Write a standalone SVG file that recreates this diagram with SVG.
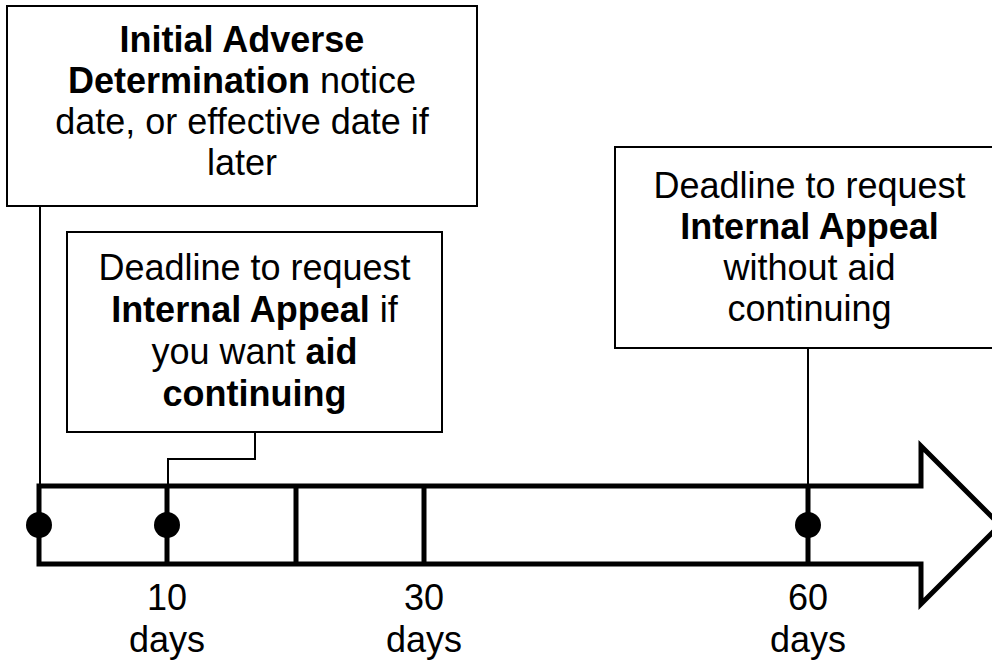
<svg xmlns="http://www.w3.org/2000/svg" width="992" height="663" viewBox="0 0 992 663">
<style>
.box{fill:#fff;stroke:#000;stroke-width:2}
.t{font-family:"Liberation Sans",Arial,sans-serif;font-size:36px;fill:#000;text-anchor:middle}
.b{font-weight:bold}
.conn{fill:none;stroke:#000;stroke-width:2}
.tl{fill:none;stroke:#000;stroke-width:5;stroke-linejoin:miter}
.dot{fill:#000}
</style>
<rect width="992" height="663" fill="#fff"/>
<g id="connectors">
<path class="conn" d="M40,206 V486"/>
<path class="conn" d="M255,432 V459 H168 V486"/>
<path class="conn" d="M808,348 V486"/>
</g>
<g id="timeline">
<path class="tl" d="M39,486 H921 V446 L1000,525 L921,604 V564 H39 Z"/>
<path class="tl" d="M167,486 V564 M296,486 V564 M424,486 V564 M808,486 V564"/>
<circle class="dot" cx="39" cy="525" r="13"/>
<circle class="dot" cx="167" cy="525" r="13"/>
<circle class="dot" cx="808" cy="525" r="13"/>
<text class="t" x="167" y="610">10</text>
<text class="t" x="167" y="652">days</text>
<text class="t" x="424" y="610">30</text>
<text class="t" x="424" y="652">days</text>
<text class="t" x="808" y="610">60</text>
<text class="t" x="808" y="652">days</text>
</g>
<g id="node-initial">
<rect class="box" x="7" y="6" width="470" height="200"/>
<text class="t" x="242" y="52"><tspan class="b">Initial Adverse</tspan></text>
<text class="t" x="242" y="93"><tspan class="b">Determination</tspan> notice</text>
<text class="t" x="242" y="134">date, or effective date if</text>
<text class="t" x="242" y="175">later</text>
</g>
<g id="node-10days">
<rect class="box" x="67" y="232" width="375" height="200"/>
<text class="t" x="254.5" y="280">Deadline to request</text>
<text class="t" x="254.5" y="322"><tspan class="b">Internal Appeal</tspan> if</text>
<text class="t" x="254.5" y="364">you want <tspan class="b">aid</tspan></text>
<text class="t" x="254.5" y="406"><tspan class="b">continuing</tspan></text>
</g>
<g id="node-60days">
<rect class="box" x="615" y="147" width="390" height="201"/>
<text class="t" x="809.5" y="198">Deadline to request</text>
<text class="t b" x="809.5" y="239">Internal Appeal</text>
<text class="t" x="809.5" y="280">without aid</text>
<text class="t" x="809.5" y="321">continuing</text>
</g>
</svg>
